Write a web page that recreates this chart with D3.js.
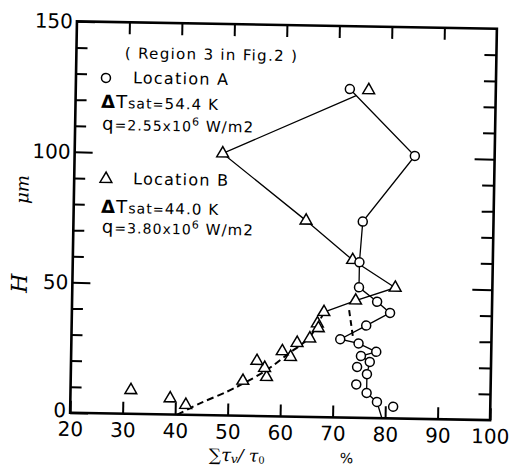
<!DOCTYPE html>
<html>
<head>
<meta charset="utf-8">
<script src="https://cdn.jsdelivr.net/npm/d3@7"></script>
<style>
  html, body { margin: 0; padding: 0; background: #fff; }
  svg { display: block; }
</style>
</head>
<body>
<svg id="chart" width="513" height="469"></svg>
<script>
// ---- Data -----------------------------------------------------------
// Location A (circles): sum(tau_v)/tau_0 in %, height H in micrometres
const locA_ratio = [72.2, 84.8, 75.1, 74.6, 74.6, 78.1, 80.6, 76.1, 71.2, 74.7, 78.1, 75.2, 76.9, 74.5, 76.4, 74.4, 76.4, 78.4, 81.5];
const locA_H     = [125.9, 100.7, 75.2, 59.6, 50.0, 44.6, 40.4, 35.4, 30.0, 28.5, 25.4, 23.7, 21.5, 19.5, 16.8, 12.8, 9.6, 6.2, 4.5];
// points of Location A joined by the solid trace, then where it meets the wall
const locA_traceOrder = [0, 1, 2, 3, 4, 5, 6, 7, 8, 9, 10, 11, 12, 14, 16, 17];
const locA_traceEnd_ratio = [79.4];
const locA_traceEnd_H     = [0];

// Location B (triangles)
const locB_ratio = [75.8, 48.2, 64.3, 73.3, 81.5, 74.0, 68.0, 66.8, 67.0, 65.4, 63.0, 61.8, 60.2, 57.3, 56.9, 55.4, 52.8, 42.0, 39.0, 31.5];
const locB_H     = [125.6, 100.4, 75.2, 60.4, 50.1, 44.9, 40.3, 35.9, 34.1, 30.1, 28.3, 22.9, 25.0, 15.0, 18.5, 21.1, 13.4, 3.8, 6.2, 9.1];
const locB_traceOrder = [1, 2, 3, 4, 5, 6];

// dashed trend of Location B near the wall
const locB_dash_ratio = [68.0, 65.4, 61.05, 57.3, 52.9, 49.75, 44.7, 40.4];
const locB_dash_H     = [40.3, 30.7, 23.6, 17.7, 12.4, 9.1, 4.5, 0];
// short dashed connector between the two profiles
const link_dash_ratio = [72.8, 73.7];
const link_dash_H     = [41.2, 29.8];

// axis ticks
const xTickLabels = [20, 30, 40, 50, 60, 70, 80, 90, 100];
const yTickLabels = [0, 50, 100, 150];

// ---- Layout ---------------------------------------------------------
const svg = d3.select('#chart');
const root = svg.append('g').attr('transform', 'rotate(1,283.5,220.75)');

const x = d3.scaleLinear().domain([20, 100]).range([73.5, 493.5]);
const y = d3.scaleLinear().domain([0, 150]).range([416.5, 25]);

const sansFont = "'DejaVu Sans', sans-serif";
const serifFont = "'DejaVu Serif', 'Liberation Serif', serif";

const yMinor = d3.range(0, 151, 10).filter(v => !yTickLabels.includes(v));
const xInner = xTickLabels.filter(v => v !== 20 && v !== 100);

function styleAxis(sel) {
  sel.select('.domain').remove();
  sel.selectAll('.tick line').attr('stroke', '#000').attr('stroke-width', 2);
  sel.selectAll('.tick text')
    .attr('font-family', sansFont)
    .attr('font-size', 20)
    .attr('fill', '#000');
}

// bottom axis
root.append('g')
  .attr('transform', `translate(0,${y(0)})`)
  .call(d3.axisBottom(x).tickValues(xTickLabels).tickSizeInner(-12).tickSizeOuter(0)
        .tickPadding(9).tickFormat(d3.format('d')))
  .call(styleAxis);

// top axis (ticks only)
root.append('g')
  .attr('transform', `translate(0,${y(150)})`)
  .call(d3.axisTop(x).tickValues(xInner).tickSizeInner(-12).tickSizeOuter(0).tickFormat(''))
  .call(styleAxis);

// left axis: minor and labelled ticks
root.append('g')
  .attr('transform', `translate(${x(20)},0)`)
  .call(d3.axisLeft(y).tickValues(yMinor).tickSizeInner(-11).tickSizeOuter(0).tickFormat(''))
  .call(styleAxis);
const yLab = root.append('g')
  .attr('transform', `translate(${x(20)},0)`)
  .call(d3.axisLeft(y).tickValues(yTickLabels).tickSizeInner(-18).tickSizeOuter(0)
        .tickPadding(4).tickFormat(d3.format('d')))
  .call(styleAxis);
// the zero label sits a little above the corner
yLab.selectAll('.tick text').filter(d => d === 0).attr('dy', '0.2em');

// right axis (ticks only)
root.append('g')
  .attr('transform', `translate(${x(100)},0)`)
  .call(d3.axisRight(y).tickValues(yMinor).tickSizeInner(-12).tickSizeOuter(0).tickFormat(''))
  .call(styleAxis);
root.append('g')
  .attr('transform', `translate(${x(100)},0)`)
  .call(d3.axisRight(y).tickValues([50, 100]).tickSizeInner(-20).tickSizeOuter(0).tickFormat(''))
  .call(styleAxis);

// frame
root.append('rect')
  .attr('x', x(20)).attr('y', y(150))
  .attr('width', x(100) - x(20)).attr('height', y(0) - y(150))
  .attr('fill', 'none').attr('stroke', '#000').attr('stroke-width', 2.6);

// ---- Traces ---------------------------------------------------------
const line = d3.line().x(d => x(d[0])).y(d => y(d[1]));
const ptsA = d3.zip(locA_ratio, locA_H);
const ptsB = d3.zip(locB_ratio, locB_H);

// segment intersection in data space
function intersect(p1, p2, p3, p4) {
  const d = (p1[0] - p2[0]) * (p3[1] - p4[1]) - (p1[1] - p2[1]) * (p3[0] - p4[0]);
  const t = ((p1[0] - p3[0]) * (p3[1] - p4[1]) - (p1[1] - p3[1]) * (p3[0] - p4[0])) / d;
  return [p1[0] + t * (p2[0] - p1[0]), p1[1] + t * (p2[1] - p1[1])];
}

const traceA = locA_traceOrder.map(i => ptsA[i])
  .concat(d3.zip(locA_traceEnd_ratio, locA_traceEnd_H));
// Location B's upper branch stops where it meets Location A's top segment
const joinB = intersect(ptsB[1], ptsB[0], ptsA[0], ptsA[1]);
const traceB = [joinB].concat(locB_traceOrder.map(i => ptsB[i]));

root.append('path').attr('d', line(traceA))
  .attr('fill', 'none').attr('stroke', '#000').attr('stroke-width', 1.3);
root.append('path').attr('d', line(traceB))
  .attr('fill', 'none').attr('stroke', '#000').attr('stroke-width', 1.3);

root.append('path')
  .attr('d', line.curve(d3.curveCatmullRom)(d3.zip(locB_dash_ratio, locB_dash_H)))
  .attr('fill', 'none').attr('stroke', '#000').attr('stroke-width', 2)
  .attr('stroke-dasharray', '7,4');
line.curve(d3.curveLinear);
root.append('path')
  .attr('d', line(d3.zip(link_dash_ratio, link_dash_H)))
  .attr('fill', 'none').attr('stroke', '#000').attr('stroke-width', 2)
  .attr('stroke-dasharray', '6,4');

// ---- Markers --------------------------------------------------------
const tri = d3.symbol().type(d3.symbolTriangle).size(60);

root.append('g').selectAll('path')
  .data(ptsB).join('path')
  .attr('d', tri)
  .attr('transform', d => `translate(${x(d[0])},${y(d[1])})`)
  .attr('fill', '#fff').attr('stroke', '#000').attr('stroke-width', 1.5);

root.append('g').selectAll('circle')
  .data(ptsA).join('circle')
  .attr('cx', d => x(d[0])).attr('cy', d => y(d[1])).attr('r', 4.5)
  .attr('fill', '#fff').attr('stroke', '#000').attr('stroke-width', 1.5);

// ---- Legend / annotations ------------------------------------------
const legend = root.append('g').attr('font-family', sansFont).attr('fill', '#000');

legend.append('text').attr('x', 122).attr('y', 61)
  .attr('font-size', 15).attr('textLength', 172).attr('lengthAdjust', 'spacing')
  .text('( Region 3 in Fig.2 )');

legend.append('circle').attr('cx', 103.5).attr('cy', 81).attr('r', 4.5)
  .attr('fill', '#fff').attr('stroke', '#000').attr('stroke-width', 1.5);
legend.append('text').attr('x', 130.5).attr('y', 86)
  .attr('font-size', 16).attr('textLength', 95).attr('lengthAdjust', 'spacing')
  .text('Location A');

legend.append('path').attr('d', tri)
  .attr('transform', 'translate(105.3,182)')
  .attr('fill', '#fff').attr('stroke', '#000').attr('stroke-width', 1.5);
legend.append('text').attr('x', 132.4).attr('y', 187)
  .attr('font-size', 16).attr('textLength', 95).attr('lengthAdjust', 'spacing')
  .text('Location B');

function dtLine(px, py, val) {
  const t = legend.append('text').attr('x', px).attr('y', py)
    .attr('textLength', 117).attr('lengthAdjust', 'spacing');
  t.append('tspan').attr('font-size', 18).attr('font-weight', 'bold').text('\u0394');
  t.append('tspan').attr('font-size', 18).text('T');
  t.append('tspan').attr('font-size', 14).text('sat');
  t.append('tspan').attr('font-size', 13).text('=');
  t.append('tspan').attr('font-size', 15).text(val + ' K');
}
function qLine(px, py, val) {
  const t = legend.append('text').attr('x', px).attr('y', py)
    .attr('textLength', 151).attr('lengthAdjust', 'spacing');
  t.append('tspan').attr('font-size', 18).text('q');
  t.append('tspan').attr('font-size', 14).text('=' + val + 'x10');
  t.append('tspan').attr('font-size', 11).attr('dy', -6).text('6');
  t.append('tspan').attr('font-size', 15).attr('dy', 6).text(' W/m2');
}
dtLine(99, 111, '54.4');
qLine(100.4, 133, '2.55');
dtLine(101, 216, '44.0');
qLine(102, 236, '3.80');

// ---- Axis titles ----------------------------------------------------
const xTitle = root.append('text').attr('x', 213).attr('y', 462)
  .attr('font-family', serifFont).attr('fill', '#000');
xTitle.append('tspan').attr('font-size', 17).text('\u2211');
xTitle.append('tspan').attr('font-size', 18).attr('font-style', 'italic').text('\u03C4');
xTitle.append('tspan').attr('font-size', 12).attr('font-style', 'italic').attr('dy', 2).text('v');
xTitle.append('tspan').attr('font-size', 17).attr('font-style', 'italic').attr('dy', -2).text('/ \u03C4');
xTitle.append('tspan').attr('font-size', 10).attr('dy', 2).text('0');

root.append('text').attr('x', 344).attr('y', 462)
  .attr('font-family', sansFont).attr('font-size', 14).attr('fill', '#000')
  .text('%');

root.append('text')
  .attr('transform', 'translate(28,288) rotate(-90)')
  .attr('text-anchor', 'middle')
  .attr('font-family', serifFont).attr('font-style', 'italic').attr('font-size', 22)
  .attr('fill', '#000')
  .text('H');
root.append('text')
  .attr('transform', 'translate(28,194) rotate(-90)')
  .attr('text-anchor', 'middle')
  .attr('font-family', serifFont).attr('font-style', 'italic').attr('font-size', 18)
  .attr('fill', '#000')
  .text('\u03BCm');
</script>
</body>
</html>
